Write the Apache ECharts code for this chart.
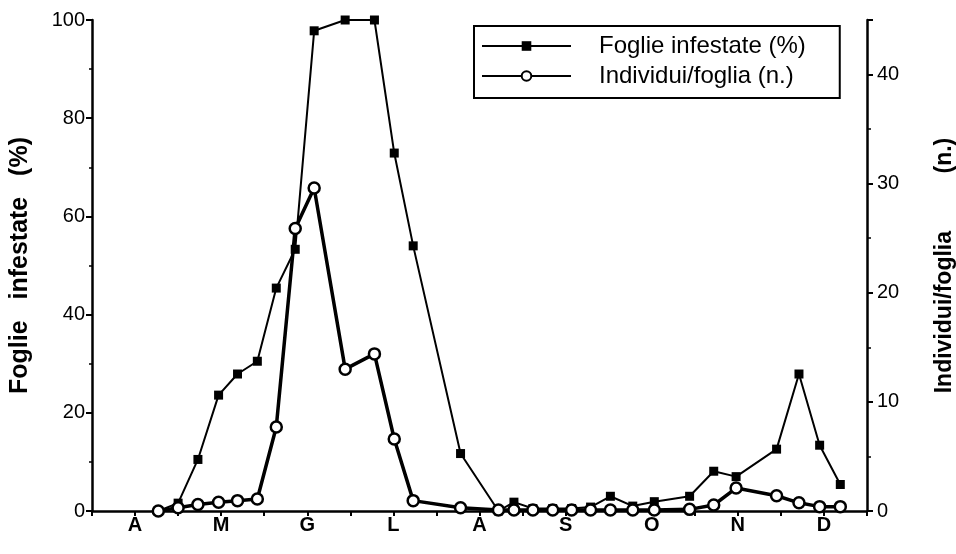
<!DOCTYPE html>
<html>
<head>
<meta charset="utf-8">
<script src="https://cdn.jsdelivr.net/npm/echarts@6/dist/echarts.min.js"></script>
<style>
  html, body { margin: 0; padding: 0; background: #fff; }
  #chart { width: 956px; height: 554px; }
</style>
</head>
<body>
<div id="chart"></div>
<script>
// sampling dates, in months from 1 April
const samplingMonths = [0.77, 1.0, 1.23, 1.47, 1.69, 1.92, 2.14, 2.36, 2.58, 2.94, 3.28, 3.51, 3.73, 4.28, 4.72,
  4.9, 5.12, 5.35, 5.57, 5.79, 6.02, 6.28, 6.53, 6.94, 7.22, 7.48, 7.95, 8.21, 8.45, 8.69];
const fogliePct = [0, 1.6, 10.5, 23.6, 27.9, 30.5, 45.4, 53.3, 97.8, 100, 100, 72.9, 54.0, 11.7, 0,
  1.8, 0.5, 0.5, 0.5, 0.8, 3.0, 1.0, 1.9, 3.0, 8.1, 7.0, 12.6, 27.9, 13.4, 5.4];
const individuiFoglia = [0, 0.3, 0.6, 0.8, 0.95, 1.1, 7.7, 25.9, 29.6, 13.0, 14.4, 6.6, 0.95, 0.3, 0.1,
  0.1, 0.1, 0.1, 0.1, 0.1, 0.1, 0.1, 0.1, 0.15, 0.55, 2.1, 1.4, 0.75, 0.4, 0.4];
const monthLabels = ['A', 'M', 'G', 'L', 'A', 'S', 'O', 'N', 'D'];

const font = "'Liberation Sans', Arial, sans-serif";

function pairs(ys) {
  return samplingMonths.map((m, i) => [m, ys[i]]);
}

const chart = echarts.init(document.getElementById('chart'));

chart.setOption({
  backgroundColor: '#fff',
  animation: false,
  textStyle: { fontFamily: font, color: '#000' },
  grid: { left: 92, right: 89, top: 20, bottom: 43, outerBoundsMode: 'none' },
  legend: {
    left: 474,
    top: 26,
    orient: 'vertical',
    itemWidth: 89,
    itemHeight: 12,
    itemGap: 6,
    padding: [8, 34, 10, 7],
    borderColor: '#000',
    borderWidth: 2,
    textStyle: { fontFamily: font, fontSize: 24, color: '#000', padding: [0, 0, 0, 23] },
    data: ['Foglie infestate (%)', 'Individui/foglia (n.)']
  },
  xAxis: {
    type: 'value',
    min: 0,
    max: 9,
    interval: 0.5,
    splitLine: { show: false },
    axisLine: { lineStyle: { color: '#000', width: 2.5 } },
    axisTick: { length: 5, lineStyle: { color: '#000', width: 2 } },
    axisLabel: {
      margin: 4,
      fontFamily: font,
      fontSize: 20,
      fontWeight: 'bold',
      color: '#000',
      formatter: function (v) {
        const half = Math.round(v * 2);
        return half % 2 === 1 ? monthLabels[(half - 1) / 2] : '';
      }
    }
  },
  yAxis: [
    {
      type: 'value',
      min: 0,
      max: 100,
      interval: 20,
      name: 'Foglie   infestate   (%)',
      nameLocation: 'middle',
      nameRotate: 90,
      nameGap: 59,
      nameTextStyle: { fontFamily: font, fontSize: 25, fontWeight: 'bold', color: '#000' },
      splitLine: { show: false },
      axisLine: { show: true, lineStyle: { color: '#000', width: 2.5 } },
      axisTick: { show: true, length: 6, lineStyle: { color: '#000', width: 2 } },
      minorTick: { show: true, splitNumber: 2, length: 3, lineStyle: { color: '#000', width: 1.5 } },
      axisLabel: { margin: 7, fontFamily: font, fontSize: 20, color: '#000' }
    },
    {
      type: 'value',
      min: 0,
      max: 45,
      interval: 10,
      position: 'right',
      name: 'Individui/foglia         (n.)',
      nameLocation: 'middle',
      nameRotate: 90,
      nameGap: 66,
      nameTextStyle: { fontFamily: font, fontSize: 23, fontWeight: 'bold', color: '#000' },
      splitLine: { show: false },
      axisLine: { show: true, lineStyle: { color: '#000', width: 2.5 } },
      axisTick: { show: true, length: 6, lineStyle: { color: '#000', width: 2 } },
      minorTick: { show: true, splitNumber: 2, length: 4, lineStyle: { color: '#000', width: 1.5 } },
      axisLabel: {
        margin: 10,
        fontFamily: font,
        fontSize: 20,
        color: '#000',
        showMaxLabel: false,
        formatter: function (v) { return v % 10 === 0 ? String(v) : ''; }
      }
    }
  ],
  series: [
    {
      name: 'Foglie infestate (%)',
      type: 'line',
      yAxisIndex: 0,
      data: pairs(fogliePct),
      symbol: 'rect',
      symbolSize: 9,
      itemStyle: { color: '#000' },
      lineStyle: { color: '#000', width: 2 },
      z: 2
    },
    {
      name: 'Individui/foglia (n.)',
      type: 'line',
      yAxisIndex: 1,
      data: pairs(individuiFoglia),
      symbol: 'circle',
      symbolSize: 11,
      itemStyle: { color: '#fff', borderColor: '#000', borderWidth: 2.5 },
      lineStyle: { color: '#000', width: 3.5 },
      z: 3
    }
  ]
});
</script>
</body>
</html>
